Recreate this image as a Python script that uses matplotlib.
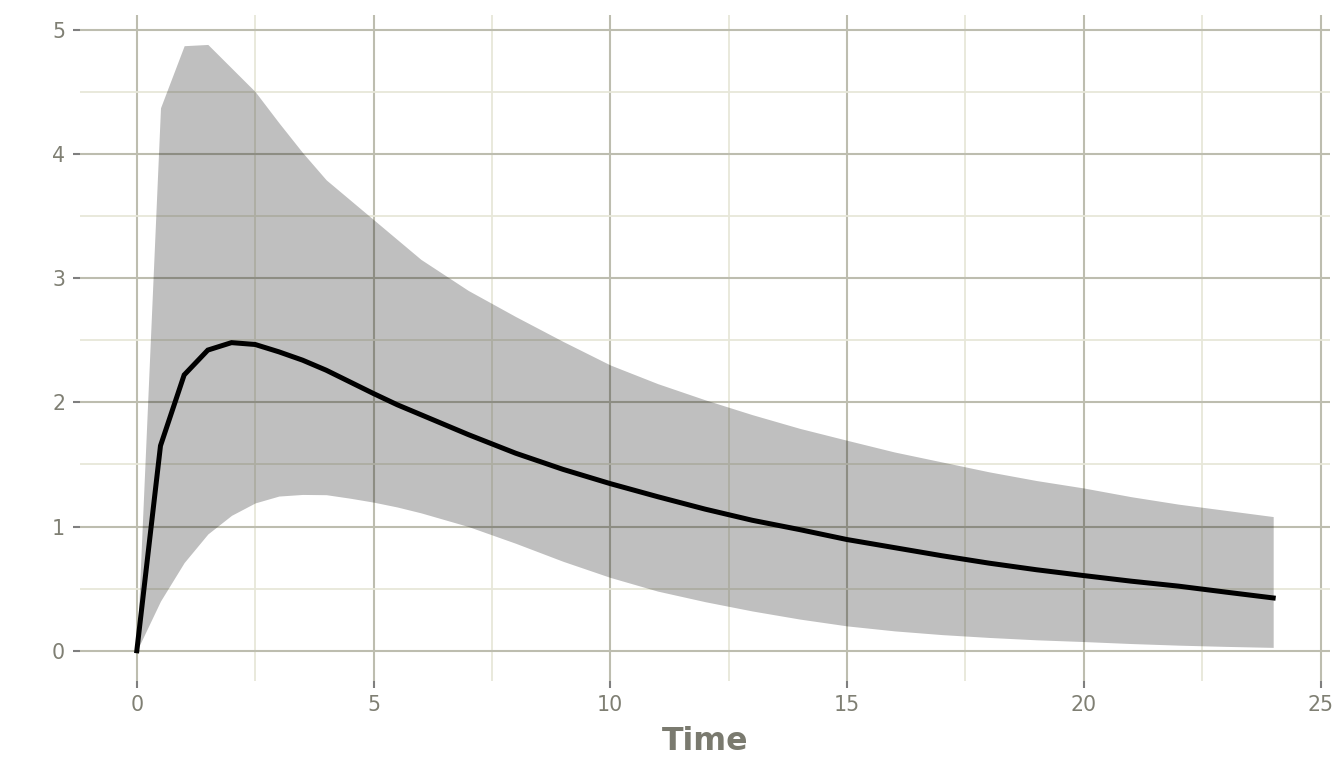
import numpy as np
import matplotlib
matplotlib.use('Agg')
import matplotlib.pyplot as plt
from matplotlib.ticker import MultipleLocator

# time points and read-off values (median and 90% band)
time = [0, 0.5, 1, 1.5, 2, 2.5, 3, 3.5, 4, 4.5, 5, 5.5, 6,
        7, 8, 9, 10, 11, 12, 13, 14, 15, 16, 17, 18, 19, 20, 21, 22, 23, 24]
median = [0, 1.65, 2.22, 2.42, 2.48, 2.465, 2.406, 2.339, 2.258, 2.164, 2.07, 1.98, 1.90,
          1.74, 1.59, 1.46, 1.345, 1.24, 1.14, 1.05, 0.975, 0.895, 0.83, 0.765, 0.705,
          0.652, 0.605, 0.56, 0.52, 0.472, 0.425]
upper = [0, 4.37, 4.87, 4.88, 4.69, 4.50, 4.25, 4.01, 3.79, 3.63, 3.47, 3.31, 3.15,
         2.90, 2.69, 2.49, 2.30, 2.15, 2.02, 1.90, 1.79, 1.694, 1.60, 1.52, 1.44,
         1.37, 1.31, 1.24, 1.18, 1.13, 1.08]
lower = [0, 0.40, 0.71, 0.94, 1.09, 1.19, 1.245, 1.258, 1.256, 1.228, 1.196, 1.157, 1.11,
         1.00, 0.865, 0.72, 0.59, 0.48, 0.395, 0.32, 0.255, 0.20, 0.16, 0.13, 0.107,
         0.088, 0.074, 0.058, 0.045, 0.035, 0.027]

major_col = '#BDBDAF'
minor_col = '#E7E7D9'
text_col = '#7F7F73'

fig = plt.figure(figsize=(13.44, 7.68), dpi=100)
ax = fig.add_axes([80/1344, 87/768, 1250/1344, 666/768])

ax.fill_between(time, lower, upper, color='black', alpha=0.25, linewidth=0)
ax.plot(time, median, color='black', lw=3.6, solid_joinstyle='miter', zorder=3)

ax.set_xlim(-1.2, 25.2)
ax.set_ylim(-0.2435, 5.117)
ax.xaxis.set_major_locator(MultipleLocator(5))
ax.xaxis.set_minor_locator(MultipleLocator(2.5))
ax.yaxis.set_major_locator(MultipleLocator(1))
ax.yaxis.set_minor_locator(MultipleLocator(0.5))

ax.set_axisbelow(True)
ax.grid(which='major', color=major_col, lw=1.5)
ax.grid(which='minor', color=minor_col, lw=1.3)
for s in ax.spines.values():
    s.set_visible(False)

ax.tick_params(which='major', length=5.3, width=1.5, color='#7F7F7F',
               labelsize=14.8, labelcolor=text_col, pad=5)
ax.tick_params(which='minor', length=0)
ax.tick_params(axis='y', pad=5.5)

ax.set_xlabel('Time', fontsize=22.8, fontweight='bold', color='#7A7A6F', labelpad=8)

plt.savefig('out.png', dpi=100)
